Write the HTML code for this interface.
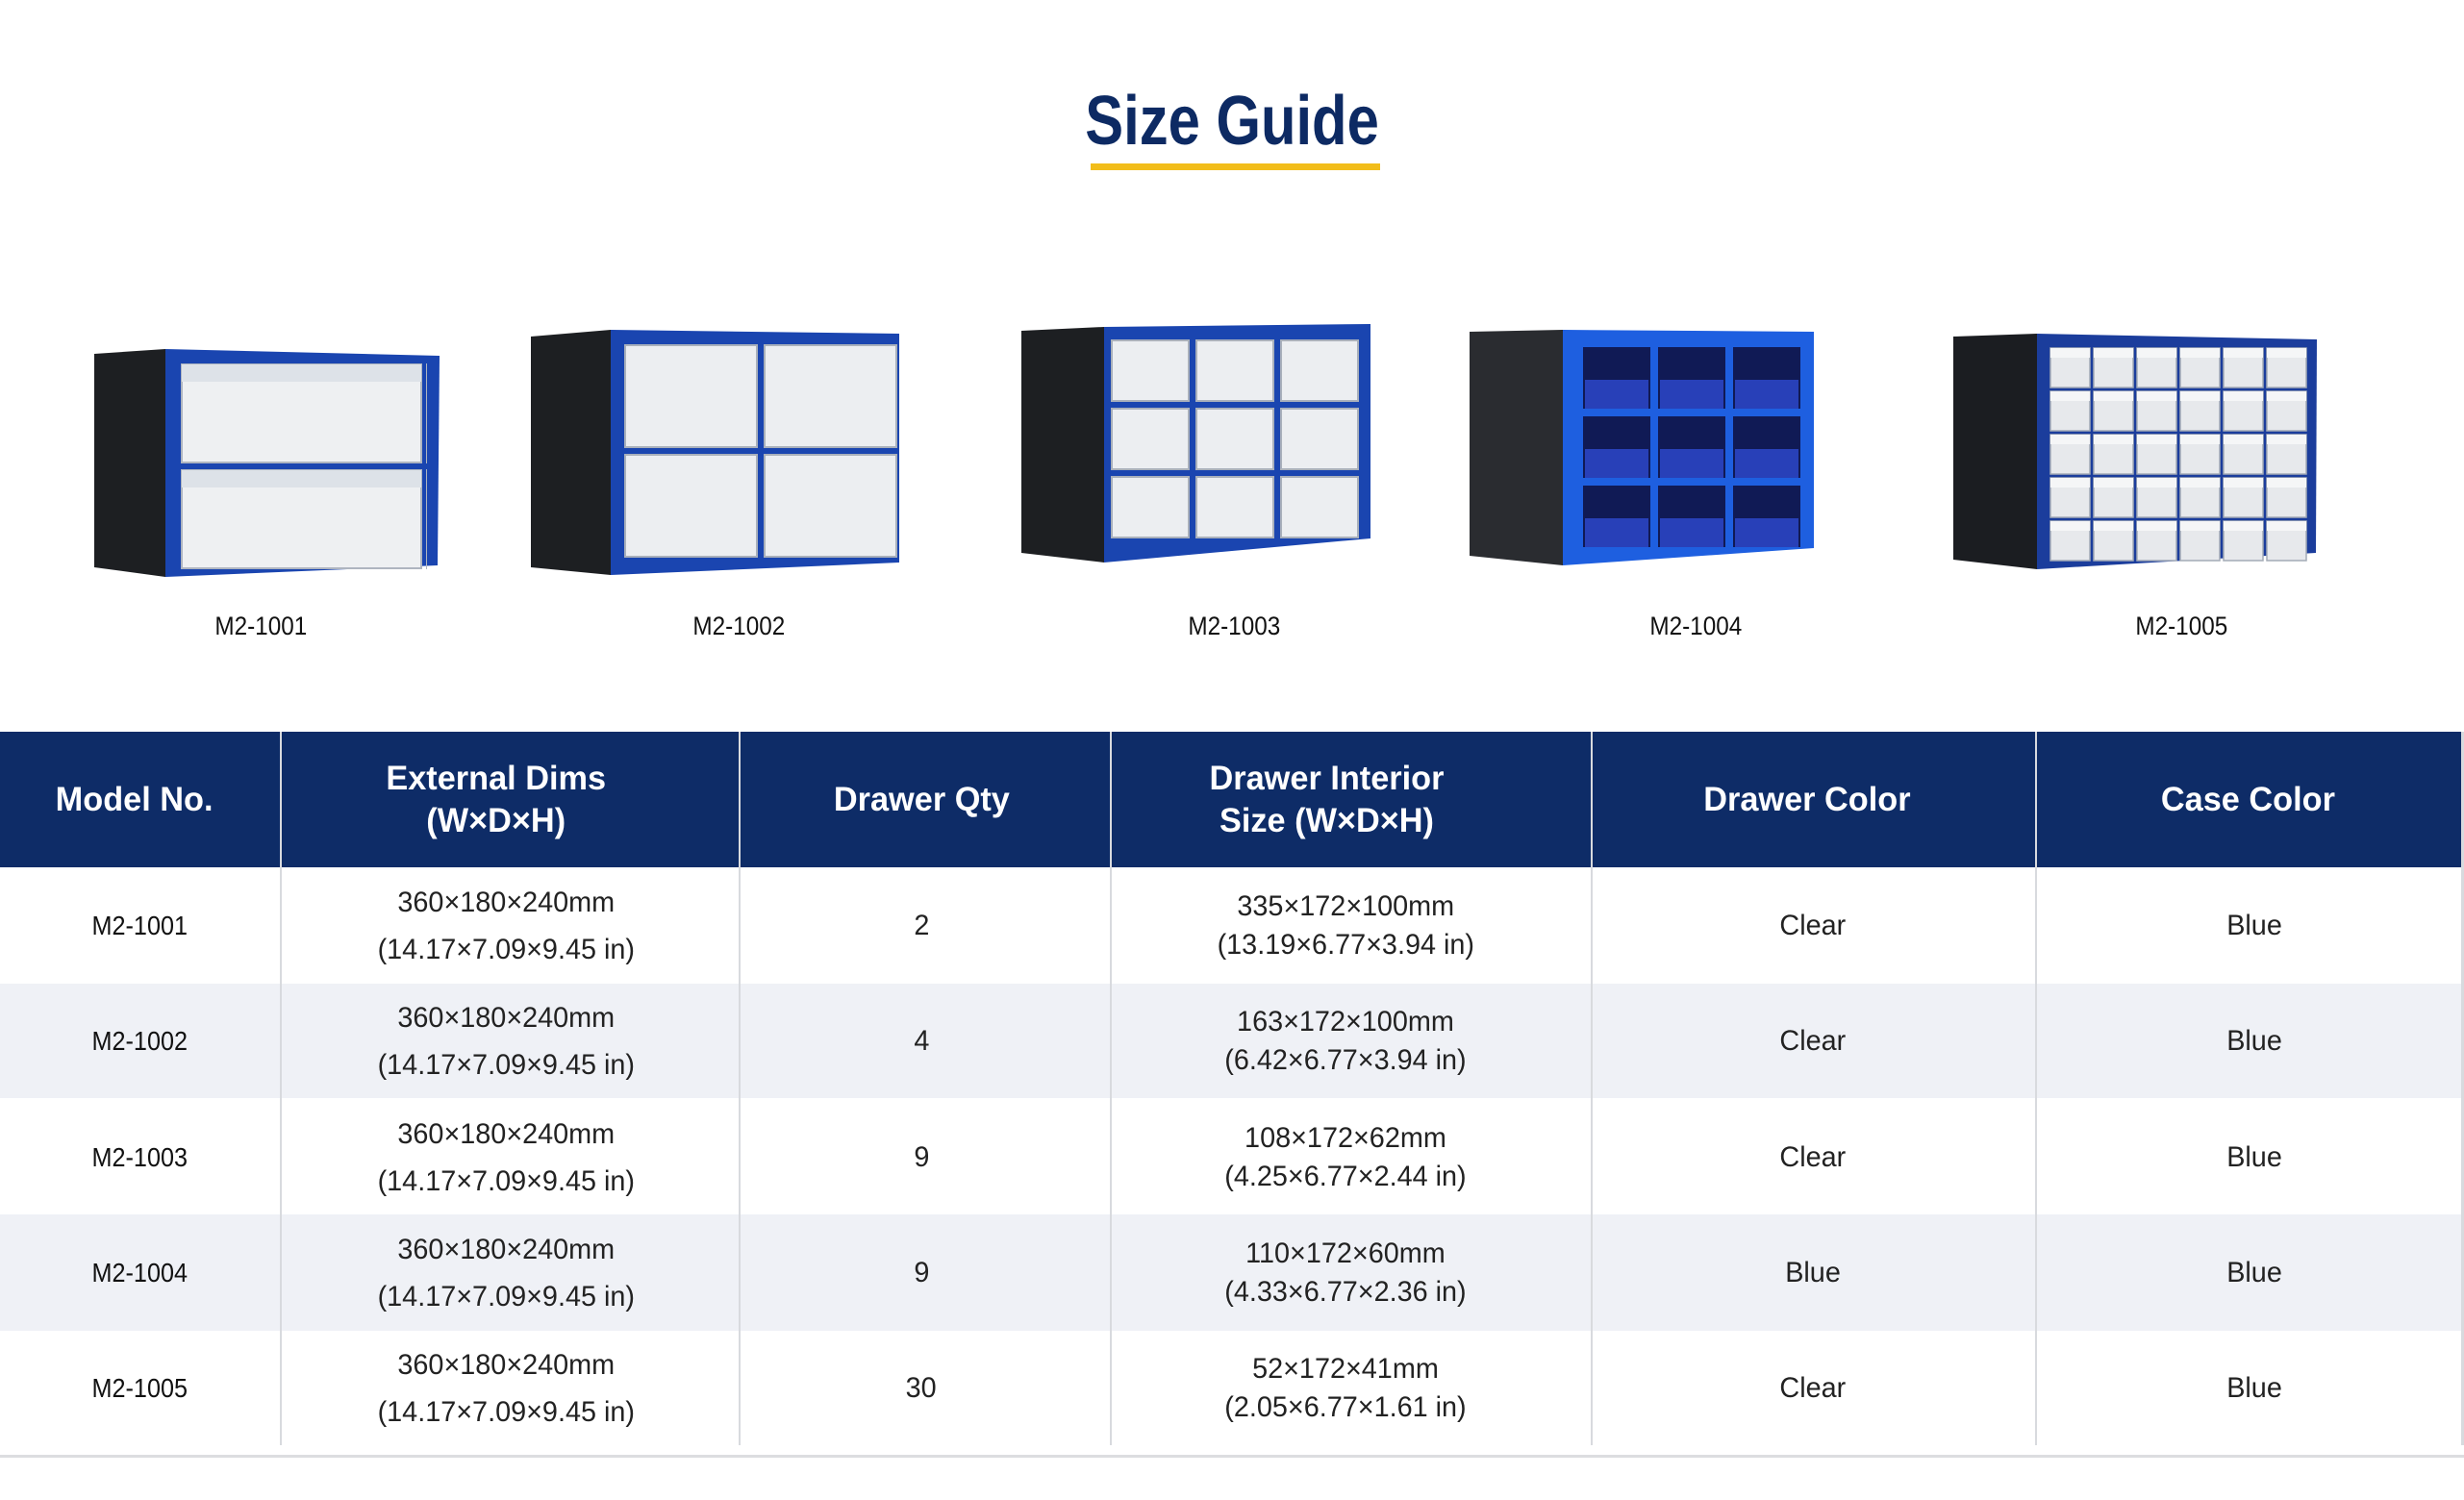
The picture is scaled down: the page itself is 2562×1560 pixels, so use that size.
<!DOCTYPE html>
<html><head><meta charset="utf-8"><style>
body{margin:0;width:2562px;height:1560px;background:#fff;position:relative;overflow:hidden;font-family:"Liberation Sans",sans-serif;}
.a{position:absolute;}
.t{position:absolute;left:0;width:100%;text-align:center;transform:translateY(-50%);}
.c{display:inline-block;transform:scaleX(0.82);white-space:nowrap;}
.hd{color:#fff;font-weight:bold;font-size:35px;line-height:44px;}
.hd .c{transform:scaleX(0.98);}
.bd{color:#222;font-size:30px;}
.bd .c{transform:scaleX(0.96);}
.md{color:#111;font-size:28px;}
.md .c{transform:scaleX(0.9);}
.lbl{position:absolute;top:636px;width:300px;text-align:center;font-size:27px;color:#111;}
.lbl .c{transform:scaleX(0.9);}
</style></head><body>
<div class="a" style="left:0;width:2562px;top:88px;text-align:center;font-size:72px;font-weight:bold;color:#0d2a63;line-height:76px;"><span class="c" style="transform:scaleX(0.83)">Size Guide</span></div>
<div class="a" style="left:1134px;width:301px;top:170px;height:7px;background:#f2bd1a"></div>

<svg class="a" style="left:0;top:0" width="2562" height="700">
<defs>
<pattern id="p1" patternUnits="userSpaceOnUse" x="186" y="375" width="255" height="110"><rect x="3" y="4" width="249" height="102" fill="#eef0f2" stroke="#aeb5c0" stroke-width="2"/><rect x="3" y="4" width="249" height="18" fill="#dde2e8"/></pattern>
<pattern id="p2" patternUnits="userSpaceOnUse" x="646" y="355" width="145" height="114"><rect x="4" y="4" width="137" height="106" fill="#eceef1" stroke="#a9b0bb" stroke-width="2"/></pattern>
<pattern id="p3" patternUnits="userSpaceOnUse" x="1152" y="350" width="88" height="71"><rect x="4" y="4" width="80" height="63" fill="#eceef1" stroke="#a9b0bb" stroke-width="2"/></pattern>
<pattern id="p4" patternUnits="userSpaceOnUse" x="1642" y="357" width="78" height="72"><rect x="4" y="4" width="70" height="64" fill="#101a55"/><rect x="6" y="38" width="66" height="30" fill="#2840b8"/></pattern>
<pattern id="p5" patternUnits="userSpaceOnUse" x="2130" y="360" width="45" height="45"><rect x="2" y="2" width="41" height="41" fill="#e7e9ec" stroke="#a4abb6" stroke-width="1.5"/><rect x="2" y="2" width="41" height="10" fill="#f5f6f7"/></pattern>
</defs>
<polygon points="98,368 172,363 172,600 98,590" fill="#1d1f22"/>
<polygon points="172,363 457,370 455,588 172,600" fill="#1a45b0"/>
<rect x="186" y="377" width="258" height="218" fill="url(#p1)"/>
<polygon points="552,350 635,343 635,598 552,590" fill="#1d1f22"/>
<polygon points="635,343 935,347 935,585 635,598" fill="#1a45b0"/>
<rect x="648" y="357" width="288" height="226" fill="url(#p2)"/>
<polygon points="1062,344 1148,340 1148,585 1062,575" fill="#1d1f22"/>
<polygon points="1148,340 1425,337 1425,560 1148,585" fill="#1a45b0"/>
<rect x="1152" y="350" width="264" height="213" fill="url(#p3)"/>
<polygon points="1528,345 1625,343 1625,588 1528,578" fill="#2a2c30"/>
<polygon points="1625,343 1886,345 1886,570 1625,588" fill="#1e5fe0"/>
<rect x="1642" y="357" width="234" height="216" fill="url(#p4)"/>
<polygon points="2031,350 2118,347 2118,592 2031,582" fill="#1b1d21"/>
<polygon points="2118,347 2409,353 2408,575 2118,592" fill="#1b3d9c"/>
<rect x="2130" y="360" width="270" height="225" fill="url(#p5)"/>
</svg>
<div class="lbl" style="left:121px"><span class="c">M2-1001</span></div>
<div class="lbl" style="left:618px"><span class="c">M2-1002</span></div>
<div class="lbl" style="left:1133px"><span class="c">M2-1003</span></div>
<div class="lbl" style="left:1613px"><span class="c">M2-1004</span></div>
<div class="lbl" style="left:2118px"><span class="c">M2-1005</span></div>

<div class="a" style="left:0;top:761px;width:2562px;height:141px;background:#0e2c67"></div>
<div class="a" style="left:0;top:1023px;width:2562px;height:119px;background:#eff1f6"></div>
<div class="a" style="left:0;top:1263px;width:2562px;height:121px;background:#eff1f6"></div>
<div class="a" style="left:0;top:1513px;width:2562px;height:3px;background:#dcdde0"></div>
<div class="a" style="left:291px;top:761px;width:2px;height:742px;background:#d8dade"></div>
<div class="a" style="left:768px;top:761px;width:2px;height:742px;background:#d8dade"></div>
<div class="a" style="left:1154px;top:761px;width:2px;height:742px;background:#d8dade"></div>
<div class="a" style="left:1654px;top:761px;width:2px;height:742px;background:#d8dade"></div>
<div class="a" style="left:2116px;top:761px;width:2px;height:742px;background:#d8dade"></div>
<div class="a" style="left:2559px;top:761px;width:3px;height:742px;background:#d8dade"></div>

<div class="a hd" style="left:0;top:761px;width:2562px;height:141px">
<div class="a" style="left:0;width:280px;top:50%"><div class="t"><span class="c">Model No.</span></div></div>
<div class="a" style="left:291px;width:450px;top:50%"><div class="t"><span class="c">External Dims<br>(W×D×H)</span></div></div>
<div class="a" style="left:768px;width:380px;top:50%"><div class="t"><span class="c">Drawer Qty</span></div></div>
<div class="a" style="left:1154px;width:450px;top:50%"><div class="t"><span class="c">Drawer Interior<br>Size (W×D×H)</span></div></div>
<div class="a" style="left:1654px;width:450px;top:50%"><div class="t"><span class="c">Drawer Color</span></div></div>
<div class="a" style="left:2116px;width:443px;top:50%"><div class="t"><span class="c">Case Color</span></div></div>
</div>

<div id="rows"></div>
<script>
var d=[["M2-1001","2","335×172×100mm","(13.19×6.77×3.94 in)","Clear"],
["M2-1002","4","163×172×100mm","(6.42×6.77×3.94 in)","Clear"],
["M2-1003","9","108×172×62mm","(4.25×6.77×2.44 in)","Clear"],
["M2-1004","9","110×172×60mm","(4.33×6.77×2.36 in)","Blue"],
["M2-1005","30","52×172×41mm","(2.05×6.77×1.61 in)","Clear"]];
var h="";
for(var i=0;i<5;i++){var y=963+i*120.3;var r=d[i];
function cell(l,w,inner,cls,lh){return '<div class="a '+cls+'" style="left:'+l+'px;width:'+w+'px;top:'+y+'px;line-height:'+lh+'px"><div class="t"><span class="c">'+inner+'</span></div></div>';}
h+=cell(0,291,r[0],"md",40);
h+=cell(291,470,"360×180×240mm<br>(14.17×7.09×9.45 in)","bd",49);
h+=cell(768,380,r[1],"bd",40);
h+=cell(1154,490,r[2]+"<br>"+r[3],"bd",40);
h+=cell(1654,462,r[4],"bd",40);
h+=cell(2116,456,"Blue","bd",40);}
document.getElementById("rows").innerHTML=h;
</script>
</body></html>
